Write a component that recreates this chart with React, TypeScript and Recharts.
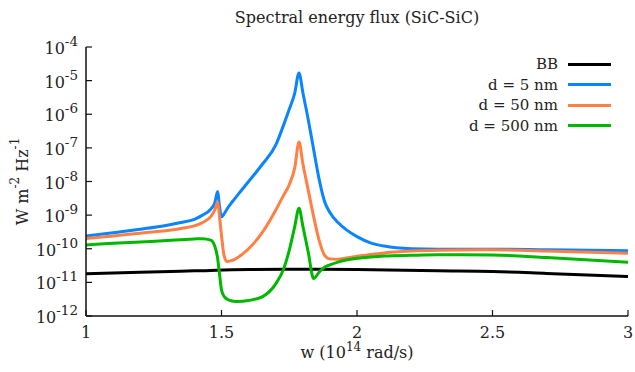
import React from "react";
import { LineChart, Line, XAxis, YAxis, Legend } from "recharts";

// frequency grid (10^14 rad/s) shared by the three SiC-SiC curves
const wGrid = [
  1.0, 1.1, 1.2, 1.3, 1.35, 1.4, 1.43, 1.46, 1.475, 1.486, 1.492, 1.5, 1.51, 1.52, 1.54, 1.56,
  1.6, 1.65, 1.7, 1.73, 1.75, 1.77, 1.786, 1.8, 1.82, 1.84, 1.86, 1.88, 1.9, 1.93, 1.96, 2.0,
  2.05, 2.1, 2.2, 2.3, 2.5, 2.7, 3.0,
];

const flux5nm = [
  2.4e-10, 3.0e-10, 3.8e-10, 5.0e-10, 6.0e-10, 7.5e-10, 1.0e-9, 1.5e-9, 2.3e-9, 5.0e-9, 2.0e-9, 9.0e-10, 1.1e-9, 1.5e-9, 2.5e-9, 4.0e-9,
  1.0e-8, 3.2e-8, 1.2e-7, 5.0e-7, 1.4e-6, 4.2e-6, 1.7e-5, 4.5e-6, 7.0e-7, 9.0e-8, 1.2e-8, 2.6e-9, 1.2e-9, 6.0e-10, 3.7e-10, 2.3e-10,
  1.5e-10, 1.2e-10, 1.0e-10, 9.7e-11, 9.7e-11, 9.3e-11, 8.7e-11,
];

const flux50nm = [
  2.0e-10, 2.4e-10, 2.9e-10, 3.5e-10, 4.0e-10, 4.8e-10, 6.0e-10, 9.0e-10, 1.4e-9, 2.5e-9, 1.0e-9, 2.5e-10, 6.0e-11, 4.2e-11, 4.5e-11, 5.5e-11,
  1.0e-10, 3.0e-10, 1.4e-9, 4.0e-9, 8.0e-9, 2.5e-8, 1.5e-7, 3.5e-8, 5.6e-9, 9.0e-10, 1.8e-10, 6.5e-11, 5.0e-11, 4.9e-11, 5.3e-11, 6.0e-11,
  6.7e-11, 7.5e-11, 8.5e-11, 9.0e-11, 9.3e-11, 8.5e-11, 7.4e-11,
];

const flux500nm = [
  1.3e-10, 1.45e-10, 1.6e-10, 1.75e-10, 1.85e-10, 1.95e-10, 2.0e-10, 1.8e-10, 1.2e-10, 5.0e-11, 2.0e-11, 6.0e-12, 3.8e-12, 3.2e-12, 2.8e-12, 2.7e-12,
  2.9e-12, 3.7e-12, 9.0e-12, 2.6e-11, 9.0e-11, 4.5e-10, 1.6e-9, 4.8e-10, 8.0e-11, 1.3e-11, 2.0e-11, 2.8e-11, 3.3e-11, 4.0e-11, 4.6e-11, 5.2e-11,
  5.7e-11, 6.1e-11, 6.4e-11, 6.6e-11, 6.5e-11, 5.5e-11, 4.0e-11,
];

// blackbody reference
const bbW = [1.0, 1.2, 1.4, 1.6, 1.8, 2.0, 2.3, 2.5, 2.7, 3.0];
const bbFlux = [1.8e-11, 2.0e-11, 2.2e-11, 2.4e-11, 2.45e-11, 2.4e-11, 2.2e-11, 2.1e-11, 1.85e-11, 1.5e-11];

const xTicks = [1, 1.5, 2, 2.5, 3];
const yTicks = [1e-12, 1e-11, 1e-10, 1e-9, 1e-8, 1e-7, 1e-6, 1e-5, 1e-4];
const yMinorTicks = yTicks.slice(0, -1).flatMap((t) => [2 * t, 5 * t]);

const seriesNames = ["BB", "d = 5 nm", "d = 50 nm", "d = 500 nm"];
const seriesColors = ["#000000", "#0a84ff", "#ff7f45", "#00b800"];

const FONT = "'DejaVu Serif', serif";
const INK = "#222";

const toRows = (xs: number[], ys: number[]) => xs.map((w, i) => ({ w, v: ys[i] }));

const seriesData = [
  toRows(bbW, bbFlux),
  toRows(wGrid, flux5nm),
  toRows(wGrid, flux50nm),
  toRows(wGrid, flux500nm),
];

function YTick(props: any) {
  const { x, y, payload } = props;
  const exp = Math.round(Math.log10(payload.value));
  return (
    <text x={x} y={y + 7} textAnchor="end" fontFamily={FONT} fontSize={16} fill={INK}>
      <tspan>10</tspan>
      <tspan dy={-8} fontSize={13.5}>{`${exp}`}</tspan>
    </text>
  );
}

function XTick(props: any) {
  const { x, y, payload } = props;
  return (
    <text x={x} y={y + 22} textAnchor="middle" fontFamily={FONT} fontSize={16} fill={INK}>
      {payload.value}
    </text>
  );
}

function YAxisTitle(props: any) {
  const vb = props.viewBox || {};
  const cx = 22;
  const cy = vb.y + vb.height / 2;
  return (
    <text
      x={cx}
      y={cy}
      transform={`rotate(-90, ${cx}, ${cy})`}
      textAnchor="middle"
      dominantBaseline="central"
      fontFamily={FONT}
      fontSize={16}
      fill={INK}
    >
      W m<tspan dy={-7} fontSize={12}>-2</tspan>
      <tspan dy={7}> Hz</tspan>
      <tspan dy={-7} fontSize={12}>-1</tspan>
    </text>
  );
}

function XAxisTitle(props: any) {
  const vb = props.viewBox || {};
  const cx = vb.x + vb.width / 2;
  return (
    <text x={cx} y={vb.y + 42} textAnchor="middle" fontFamily={FONT} fontSize={16} fill={INK}>
      w (10<tspan dy={-7} fontSize={12}>14</tspan>
      <tspan dy={7}> rad/s)</tspan>
    </text>
  );
}

function LegendBox(props: any) {
  const items = props.payload || [];
  return (
    <div style={{ fontFamily: FONT, fontSize: 15, color: INK }}>
      {items.map((it: any) => (
        <div
          key={it.value}
          style={{ display: "flex", alignItems: "center", justifyContent: "flex-end", height: 20.5 }}
        >
          <span style={{ lineHeight: "20px" }}>{it.value}</span>
          <span
            style={{ display: "inline-block", width: 43, height: 3, background: it.color, marginLeft: 10 }}
          />
        </div>
      ))}
    </div>
  );
}

const axisLine = { stroke: "#111", strokeWidth: 1.5 };
const tickLine = { stroke: "#111", strokeWidth: 1.2 };

export default function App() {
  return (
    <div style={{ position: "absolute", left: 0, top: 0, width: 635, height: 372, background: "#fff" }}>
      <div
        style={{
          position: "absolute",
          left: 86,
          top: 8,
          width: 542,
          textAlign: "center",
          fontFamily: FONT,
          fontSize: 16,
          lineHeight: "20px",
          color: INK,
        }}
      >
        Spectral energy flux (SiC-SiC)
      </div>
      <LineChart width={635} height={372} margin={{ top: 47, right: 7, bottom: 0, left: 0 }}>
        <XAxis
          xAxisId="x"
          dataKey="w"
          type="number"
          domain={[1, 3]}
          ticks={xTicks}
          interval={0}
          allowDataOverflow
          height={56}
          tickSize={-6}
          tickMargin={6}
          axisLine={axisLine}
          tickLine={tickLine}
          tick={<XTick />}
          label={<XAxisTitle />}
        />
        <XAxis
          xAxisId="xTop"
          type="number"
          orientation="top"
          domain={[1, 3]}
          ticks={xTicks}
          interval={0}
          allowDataOverflow
          height={0}
          tickSize={-6}
          axisLine={axisLine}
          tickLine={tickLine}
          tick={false}
        />
        <YAxis
          yAxisId="y"
          type="number"
          scale="log"
          domain={[1e-12, 1e-4]}
          ticks={yTicks}
          interval={0}
          allowDataOverflow
          width={86}
          tickSize={-6}
          tickMargin={14}
          axisLine={axisLine}
          tickLine={tickLine}
          tick={<YTick />}
          label={<YAxisTitle />}
        />
        <YAxis
          yAxisId="yMinor"
          type="number"
          scale="log"
          domain={[1e-12, 1e-4]}
          ticks={yMinorTicks}
          interval={0}
          allowDataOverflow
          width={0}
          tickSize={-3}
          axisLine={false}
          tickLine={tickLine}
          tick={false}
        />
        <YAxis
          yAxisId="yRight"
          orientation="right"
          type="number"
          scale="log"
          domain={[1e-12, 1e-4]}
          ticks={yTicks}
          interval={0}
          allowDataOverflow
          width={0}
          tickSize={-6}
          axisLine={axisLine}
          tickLine={tickLine}
          tick={false}
        />
        <YAxis
          yAxisId="yRightMinor"
          orientation="right"
          type="number"
          scale="log"
          domain={[1e-12, 1e-4]}
          ticks={yMinorTicks}
          interval={0}
          allowDataOverflow
          width={0}
          tickSize={-3}
          axisLine={false}
          tickLine={tickLine}
          tick={false}
        />
        <Legend
          content={<LegendBox />}
          layout="horizontal"
          verticalAlign="middle"
          align="center"
          wrapperStyle={{ top: 54, right: 24, left: "auto", width: "auto" }}
        />
        {seriesData.map((rows, i) => (
          <Line
            key={seriesNames[i]}
            data={rows}
            dataKey="v"
            name={seriesNames[i]}
            xAxisId="x"
            yAxisId="y"
            type="monotone"
            stroke={seriesColors[i]}
            strokeWidth={3}
            dot={false}
            activeDot={false}
            isAnimationActive={false}
          />
        ))}
      </LineChart>
    </div>
  );
}
